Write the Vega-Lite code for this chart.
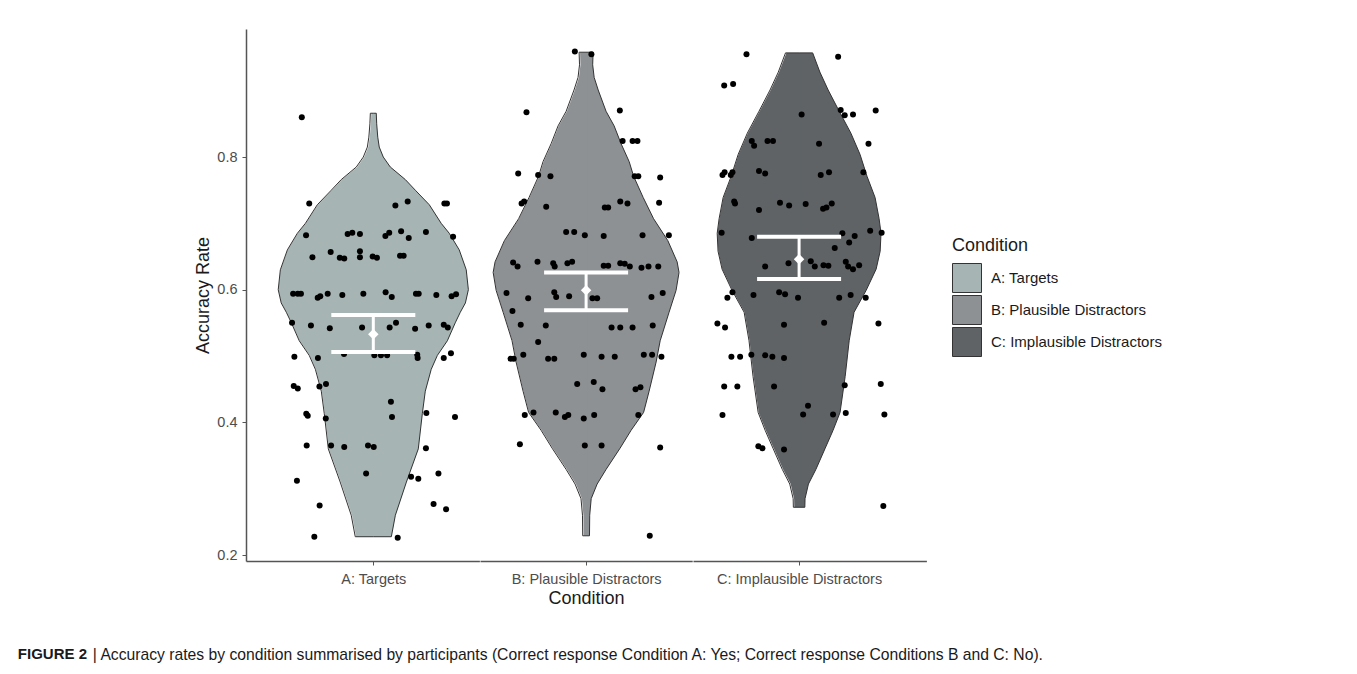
{
 "$schema": "https://vega.github.io/schema/vega-lite/v6.json",
 "padding": {"left": 17, "top": 29, "right": 0, "bottom": 0},
 "background": "white",
 "title": {"text": "FIGURE 2", "orient": "bottom", "anchor": "start", "frame": "bounds", "dx": -75, "offset": -15.7, "font": "Liberation Sans", "fontSize": 15, "fontWeight": "bold", "color": "#1a1a1a"},
 "datasets": {
  "vio": [
   {"c":"A: Targets","acc":0.2276,"d":0.085},{"c":"A: Targets","acc":0.26,"d":0.104},{"c":"A: Targets","acc":0.31,"d":0.156},{"c":"A: Targets","acc":0.36,"d":0.212},{"c":"A: Targets","acc":0.413,"d":0.231},{"c":"A: Targets","acc":0.447,"d":0.245},{"c":"A: Targets","acc":0.48,"d":0.273},{"c":"A: Targets","acc":0.501,"d":0.302},{"c":"A: Targets","acc":0.523,"d":0.349},{"c":"A: Targets","acc":0.55,"d":0.386},{"c":"A: Targets","acc":0.566,"d":0.41},{"c":"A: Targets","acc":0.58,"d":0.434},{"c":"A: Targets","acc":0.6,"d":0.448},{"c":"A: Targets","acc":0.63,"d":0.438},{"c":"A: Targets","acc":0.66,"d":0.405},{"c":"A: Targets","acc":0.685,"d":0.358},{"c":"A: Targets","acc":0.7,"d":0.32},{"c":"A: Targets","acc":0.728,"d":0.264},{"c":"A: Targets","acc":0.75,"d":0.198},{"c":"A: Targets","acc":0.766,"d":0.151},{"c":"A: Targets","acc":0.785,"d":0.08},{"c":"A: Targets","acc":0.8,"d":0.047},{"c":"A: Targets","acc":0.815,"d":0.028},{"c":"A: Targets","acc":0.83,"d":0.021},{"c":"A: Targets","acc":0.85,"d":0.016},{"c":"A: Targets","acc":0.866,"d":0.014},
   {"c":"B: Plausible Distractors","acc":0.229,"d":0.016},{"c":"B: Plausible Distractors","acc":0.26,"d":0.017},{"c":"B: Plausible Distractors","acc":0.285,"d":0.024},{"c":"B: Plausible Distractors","acc":0.307,"d":0.052},{"c":"B: Plausible Distractors","acc":0.329,"d":0.094},{"c":"B: Plausible Distractors","acc":0.361,"d":0.16},{"c":"B: Plausible Distractors","acc":0.388,"d":0.212},{"c":"B: Plausible Distractors","acc":0.415,"d":0.271},{"c":"B: Plausible Distractors","acc":0.447,"d":0.297},{"c":"B: Plausible Distractors","acc":0.491,"d":0.33},{"c":"B: Plausible Distractors","acc":0.523,"d":0.349},{"c":"B: Plausible Distractors","acc":0.566,"d":0.391},{"c":"B: Plausible Distractors","acc":0.599,"d":0.424},{"c":"B: Plausible Distractors","acc":0.626,"d":0.438},{"c":"B: Plausible Distractors","acc":0.642,"d":0.429},{"c":"B: Plausible Distractors","acc":0.674,"d":0.385},{"c":"B: Plausible Distractors","acc":0.707,"d":0.318},{"c":"B: Plausible Distractors","acc":0.739,"d":0.269},{"c":"B: Plausible Distractors","acc":0.771,"d":0.224},{"c":"B: Plausible Distractors","acc":0.793,"d":0.203},{"c":"B: Plausible Distractors","acc":0.82,"d":0.165},{"c":"B: Plausible Distractors","acc":0.847,"d":0.132},{"c":"B: Plausible Distractors","acc":0.869,"d":0.094},{"c":"B: Plausible Distractors","acc":0.901,"d":0.057},{"c":"B: Plausible Distractors","acc":0.92,"d":0.038},{"c":"B: Plausible Distractors","acc":0.939,"d":0.031},{"c":"B: Plausible Distractors","acc":0.958,"d":0.033},
   {"c":"C: Implausible Distractors","acc":0.272,"d":0.027},{"c":"C: Implausible Distractors","acc":0.285,"d":0.028},{"c":"C: Implausible Distractors","acc":0.307,"d":0.044},{"c":"C: Implausible Distractors","acc":0.329,"d":0.079},{"c":"C: Implausible Distractors","acc":0.361,"d":0.123},{"c":"C: Implausible Distractors","acc":0.388,"d":0.16},{"c":"C: Implausible Distractors","acc":0.415,"d":0.193},{"c":"C: Implausible Distractors","acc":0.469,"d":0.217},{"c":"C: Implausible Distractors","acc":0.523,"d":0.236},{"c":"C: Implausible Distractors","acc":0.566,"d":0.259},{"c":"C: Implausible Distractors","acc":0.599,"d":0.316},{"c":"C: Implausible Distractors","acc":0.631,"d":0.363},{"c":"C: Implausible Distractors","acc":0.658,"d":0.382},{"c":"C: Implausible Distractors","acc":0.685,"d":0.386},{"c":"C: Implausible Distractors","acc":0.707,"d":0.377},{"c":"C: Implausible Distractors","acc":0.739,"d":0.358},{"c":"C: Implausible Distractors","acc":0.771,"d":0.32},{"c":"C: Implausible Distractors","acc":0.804,"d":0.287},{"c":"C: Implausible Distractors","acc":0.836,"d":0.244},{"c":"C: Implausible Distractors","acc":0.869,"d":0.189},{"c":"C: Implausible Distractors","acc":0.901,"d":0.137},{"c":"C: Implausible Distractors","acc":0.928,"d":0.098},{"c":"C: Implausible Distractors","acc":0.957,"d":0.064}
  ],
  "sum": [
   {"c":"A: Targets","m":0.533,"lo":0.506,"hi":0.562},
   {"c":"B: Plausible Distractors","m":0.599,"lo":0.569,"hi":0.626},
   {"c":"C: Implausible Distractors","m":0.646,"lo":0.616,"hi":0.68}
  ],
  "pts": [
   {"c":"A: Targets","acc":0.86,"j":-0.337},{"c":"A: Targets","acc":0.73,"j":-0.302},{"c":"A: Targets","acc":0.682,"j":-0.317},{"c":"A: Targets","acc":0.649,"j":-0.287},{"c":"A: Targets","acc":0.657,"j":-0.201},{"c":"A: Targets","acc":0.648,"j":-0.158},{"c":"A: Targets","acc":0.647,"j":-0.137},{"c":"A: Targets","acc":0.658,"j":-0.063},{"c":"A: Targets","acc":0.649,"j":-0.063},{"c":"A: Targets","acc":0.65,"j":-0.003},{"c":"A: Targets","acc":0.648,"j":0.017},{"c":"A: Targets","acc":0.651,"j":0.126},{"c":"A: Targets","acc":0.651,"j":0.143},{"c":"A: Targets","acc":0.684,"j":-0.121},{"c":"A: Targets","acc":0.686,"j":-0.099},{"c":"A: Targets","acc":0.684,"j":-0.063},{"c":"A: Targets","acc":0.681,"j":0.057},{"c":"A: Targets","acc":0.686,"j":0.075},{"c":"A: Targets","acc":0.688,"j":0.131},{"c":"A: Targets","acc":0.678,"j":0.167},{"c":"A: Targets","acc":0.687,"j":0.248},{"c":"A: Targets","acc":0.727,"j":0.104},{"c":"A: Targets","acc":0.733,"j":0.162},
   {"c":"A: Targets","acc":0.594,"j":-0.378},{"c":"A: Targets","acc":0.594,"j":-0.356},{"c":"A: Targets","acc":0.594,"j":-0.341},{"c":"A: Targets","acc":0.588,"j":-0.262},{"c":"A: Targets","acc":0.59,"j":-0.25},{"c":"A: Targets","acc":0.594,"j":-0.215},{"c":"A: Targets","acc":0.592,"j":-0.146},{"c":"A: Targets","acc":0.594,"j":-0.047},{"c":"A: Targets","acc":0.596,"j":0.058},{"c":"A: Targets","acc":0.589,"j":0.087},{"c":"A: Targets","acc":0.594,"j":0.201},{"c":"A: Targets","acc":0.594,"j":0.214},{"c":"A: Targets","acc":0.592,"j":0.297},
   {"c":"A: Targets","acc":0.55,"j":-0.383},{"c":"A: Targets","acc":0.546,"j":-0.294},{"c":"A: Targets","acc":0.542,"j":-0.205},{"c":"A: Targets","acc":0.543,"j":-0.053},{"c":"A: Targets","acc":0.543,"j":0.077},{"c":"A: Targets","acc":0.55,"j":0.107},{"c":"A: Targets","acc":0.541,"j":0.197},{"c":"A: Targets","acc":0.546,"j":0.261},
   {"c":"A: Targets","acc":0.499,"j":-0.372},{"c":"A: Targets","acc":0.497,"j":-0.261},{"c":"A: Targets","acc":0.503,"j":-0.138},{"c":"A: Targets","acc":0.501,"j":0.005},{"c":"A: Targets","acc":0.501,"j":0.036},{"c":"A: Targets","acc":0.501,"j":0.065},{"c":"A: Targets","acc":0.502,"j":0.207},{"c":"A: Targets","acc":0.497,"j":0.209},
   {"c":"A: Targets","acc":0.455,"j":-0.375},{"c":"A: Targets","acc":0.451,"j":-0.356},{"c":"A: Targets","acc":0.454,"j":-0.254},{"c":"A: Targets","acc":0.458,"j":-0.223},{"c":"A: Targets","acc":0.431,"j":0.083},
   {"c":"A: Targets","acc":0.413,"j":-0.316},{"c":"A: Targets","acc":0.41,"j":-0.309},{"c":"A: Targets","acc":0.406,"j":-0.224},{"c":"A: Targets","acc":0.408,"j":0.088},{"c":"A: Targets","acc":0.414,"j":0.25},
   {"c":"A: Targets","acc":0.365,"j":-0.314},{"c":"A: Targets","acc":0.365,"j":-0.199},{"c":"A: Targets","acc":0.363,"j":-0.137},{"c":"A: Targets","acc":0.365,"j":-0.025},{"c":"A: Targets","acc":0.363,"j":0.002},{"c":"A: Targets","acc":0.361,"j":0.248},
   {"c":"A: Targets","acc":0.312,"j":-0.36},{"c":"A: Targets","acc":0.323,"j":-0.034},{"c":"A: Targets","acc":0.318,"j":0.178},{"c":"A: Targets","acc":0.315,"j":0.212},{"c":"A: Targets","acc":0.323,"j":0.307},
   {"c":"A: Targets","acc":0.2745,"j":-0.253},{"c":"A: Targets","acc":0.277,"j":0.284},{"c":"A: Targets","acc":0.269,"j":0.343},{"c":"A: Targets","acc":0.2276,"j":-0.278},{"c":"A: Targets","acc":0.226,"j":0.115},
   {"c":"A: Targets","acc":0.73,"j":0.335},{"c":"A: Targets","acc":0.73,"j":0.347},{"c":"A: Targets","acc":0.68,"j":0.376},{"c":"A: Targets","acc":0.59,"j":0.369},{"c":"A: Targets","acc":0.593,"j":0.39},{"c":"A: Targets","acc":0.547,"j":0.332},{"c":"A: Targets","acc":0.543,"j":0.351},{"c":"A: Targets","acc":0.497,"j":0.332},{"c":"A: Targets","acc":0.504,"j":0.366},{"c":"A: Targets","acc":0.408,"j":0.385},
   {"c":"B: Plausible Distractors","acc":0.959,"j":-0.053},{"c":"B: Plausible Distractors","acc":0.955,"j":0.025},{"c":"B: Plausible Distractors","acc":0.8675,"j":-0.281},{"c":"B: Plausible Distractors","acc":0.87,"j":0.159},{"c":"B: Plausible Distractors","acc":0.824,"j":0.172},{"c":"B: Plausible Distractors","acc":0.824,"j":0.219},{"c":"B: Plausible Distractors","acc":0.824,"j":0.242},{"c":"B: Plausible Distractors","acc":0.775,"j":-0.32},{"c":"B: Plausible Distractors","acc":0.773,"j":-0.226},{"c":"B: Plausible Distractors","acc":0.771,"j":-0.168},{"c":"B: Plausible Distractors","acc":0.771,"j":0.229},{"c":"B: Plausible Distractors","acc":0.771,"j":0.246},{"c":"B: Plausible Distractors","acc":0.769,"j":0.349},
   {"c":"B: Plausible Distractors","acc":0.73,"j":-0.304},{"c":"B: Plausible Distractors","acc":0.733,"j":-0.292},{"c":"B: Plausible Distractors","acc":0.725,"j":-0.188},{"c":"B: Plausible Distractors","acc":0.724,"j":0.088},{"c":"B: Plausible Distractors","acc":0.724,"j":0.104},{"c":"B: Plausible Distractors","acc":0.733,"j":0.161},{"c":"B: Plausible Distractors","acc":0.73,"j":0.195},{"c":"B: Plausible Distractors","acc":0.731,"j":0.344},
   {"c":"B: Plausible Distractors","acc":0.682,"j":0.39},{"c":"B: Plausible Distractors","acc":0.687,"j":-0.094},{"c":"B: Plausible Distractors","acc":0.687,"j":-0.056},{"c":"B: Plausible Distractors","acc":0.682,"j":-0.006},{"c":"B: Plausible Distractors","acc":0.681,"j":0.083},{"c":"B: Plausible Distractors","acc":0.682,"j":0.266},
   {"c":"B: Plausible Distractors","acc":0.641,"j":-0.344},{"c":"B: Plausible Distractors","acc":0.635,"j":-0.323},{"c":"B: Plausible Distractors","acc":0.642,"j":-0.229},{"c":"B: Plausible Distractors","acc":0.64,"j":-0.155},{"c":"B: Plausible Distractors","acc":0.635,"j":-0.148},{"c":"B: Plausible Distractors","acc":0.64,"j":-0.088},{"c":"B: Plausible Distractors","acc":0.642,"j":-0.066},{"c":"B: Plausible Distractors","acc":0.636,"j":0.083},{"c":"B: Plausible Distractors","acc":0.636,"j":0.104},{"c":"B: Plausible Distractors","acc":0.64,"j":0.161},{"c":"B: Plausible Distractors","acc":0.639,"j":0.182},{"c":"B: Plausible Distractors","acc":0.635,"j":0.206},{"c":"B: Plausible Distractors","acc":0.633,"j":0.261},{"c":"B: Plausible Distractors","acc":0.635,"j":0.294},{"c":"B: Plausible Distractors","acc":0.635,"j":0.34},
   {"c":"B: Plausible Distractors","acc":0.595,"j":-0.375},{"c":"B: Plausible Distractors","acc":0.587,"j":-0.273},{"c":"B: Plausible Distractors","acc":0.596,"j":-0.15},{"c":"B: Plausible Distractors","acc":0.589,"j":-0.141},{"c":"B: Plausible Distractors","acc":0.59,"j":-0.08},{"c":"B: Plausible Distractors","acc":0.587,"j":0.03},{"c":"B: Plausible Distractors","acc":0.587,"j":0.052},{"c":"B: Plausible Distractors","acc":0.589,"j":0.308},{"c":"B: Plausible Distractors","acc":0.595,"j":0.361},
   {"c":"B: Plausible Distractors","acc":0.568,"j":-0.347},{"c":"B: Plausible Distractors","acc":0.547,"j":-0.308},{"c":"B: Plausible Distractors","acc":0.546,"j":-0.19},{"c":"B: Plausible Distractors","acc":0.543,"j":0.12},{"c":"B: Plausible Distractors","acc":0.543,"j":0.161},{"c":"B: Plausible Distractors","acc":0.543,"j":0.219},{"c":"B: Plausible Distractors","acc":0.546,"j":0.314},{"c":"B: Plausible Distractors","acc":0.521,"j":-0.226},
   {"c":"B: Plausible Distractors","acc":0.496,"j":-0.356},{"c":"B: Plausible Distractors","acc":0.496,"j":-0.341},{"c":"B: Plausible Distractors","acc":0.502,"j":-0.296},{"c":"B: Plausible Distractors","acc":0.496,"j":-0.179},{"c":"B: Plausible Distractors","acc":0.496,"j":-0.15},{"c":"B: Plausible Distractors","acc":0.502,"j":-0.011},{"c":"B: Plausible Distractors","acc":0.499,"j":0.073},{"c":"B: Plausible Distractors","acc":0.499,"j":0.135},{"c":"B: Plausible Distractors","acc":0.502,"j":0.272},{"c":"B: Plausible Distractors","acc":0.502,"j":0.311},{"c":"B: Plausible Distractors","acc":0.499,"j":0.355},
   {"c":"B: Plausible Distractors","acc":0.458,"j":-0.042},{"c":"B: Plausible Distractors","acc":0.461,"j":0.036},{"c":"B: Plausible Distractors","acc":0.45,"j":0.077},{"c":"B: Plausible Distractors","acc":0.45,"j":0.233},{"c":"B: Plausible Distractors","acc":0.453,"j":0.256},
   {"c":"B: Plausible Distractors","acc":0.411,"j":-0.289},{"c":"B: Plausible Distractors","acc":0.415,"j":-0.248},{"c":"B: Plausible Distractors","acc":0.415,"j":-0.143},{"c":"B: Plausible Distractors","acc":0.408,"j":-0.1},{"c":"B: Plausible Distractors","acc":0.411,"j":-0.084},{"c":"B: Plausible Distractors","acc":0.406,"j":-0.011},{"c":"B: Plausible Distractors","acc":0.411,"j":0.038},{"c":"B: Plausible Distractors","acc":0.411,"j":0.246},
   {"c":"B: Plausible Distractors","acc":0.367,"j":-0.312},{"c":"B: Plausible Distractors","acc":0.365,"j":-0.006},{"c":"B: Plausible Distractors","acc":0.365,"j":0.073},{"c":"B: Plausible Distractors","acc":0.362,"j":0.349},{"c":"B: Plausible Distractors","acc":0.229,"j":0.3},
   {"c":"C: Implausible Distractors","acc":0.955,"j":-0.248},{"c":"C: Implausible Distractors","acc":0.951,"j":0.184},{"c":"C: Implausible Distractors","acc":0.908,"j":-0.353},{"c":"C: Implausible Distractors","acc":0.91,"j":-0.311},{"c":"C: Implausible Distractors","acc":0.864,"j":0.012},{"c":"C: Implausible Distractors","acc":0.871,"j":0.196},{"c":"C: Implausible Distractors","acc":0.863,"j":0.215},{"c":"C: Implausible Distractors","acc":0.864,"j":0.254},{"c":"C: Implausible Distractors","acc":0.87,"j":0.361},
   {"c":"C: Implausible Distractors","acc":0.824,"j":-0.223},{"c":"C: Implausible Distractors","acc":0.817,"j":-0.212},{"c":"C: Implausible Distractors","acc":0.824,"j":-0.149},{"c":"C: Implausible Distractors","acc":0.824,"j":-0.123},{"c":"C: Implausible Distractors","acc":0.82,"j":0.094},{"c":"C: Implausible Distractors","acc":0.82,"j":0.327},
   {"c":"C: Implausible Distractors","acc":0.773,"j":-0.361},{"c":"C: Implausible Distractors","acc":0.777,"j":-0.351},{"c":"C: Implausible Distractors","acc":0.773,"j":-0.322},{"c":"C: Implausible Distractors","acc":0.777,"j":-0.314},{"c":"C: Implausible Distractors","acc":0.779,"j":-0.189},{"c":"C: Implausible Distractors","acc":0.775,"j":-0.16},{"c":"C: Implausible Distractors","acc":0.773,"j":0.102},{"c":"C: Implausible Distractors","acc":0.777,"j":0.141},{"c":"C: Implausible Distractors","acc":0.777,"j":0.303},
   {"c":"C: Implausible Distractors","acc":0.733,"j":-0.306},{"c":"C: Implausible Distractors","acc":0.73,"j":-0.302},{"c":"C: Implausible Distractors","acc":0.72,"j":-0.189},{"c":"C: Implausible Distractors","acc":0.731,"j":-0.09},{"c":"C: Implausible Distractors","acc":0.727,"j":-0.047},{"c":"C: Implausible Distractors","acc":0.729,"j":0.031},{"c":"C: Implausible Distractors","acc":0.722,"j":0.113},{"c":"C: Implausible Distractors","acc":0.724,"j":0.129},{"c":"C: Implausible Distractors","acc":0.73,"j":0.154},
   {"c":"C: Implausible Distractors","acc":0.686,"j":-0.365},{"c":"C: Implausible Distractors","acc":0.678,"j":-0.223},{"c":"C: Implausible Distractors","acc":0.685,"j":0.204},{"c":"C: Implausible Distractors","acc":0.671,"j":0.236},{"c":"C: Implausible Distractors","acc":0.681,"j":0.262},{"c":"C: Implausible Distractors","acc":0.663,"j":0.168},{"c":"C: Implausible Distractors","acc":0.689,"j":0.335},{"c":"C: Implausible Distractors","acc":0.686,"j":0.389},
   {"c":"C: Implausible Distractors","acc":0.635,"j":-0.16},{"c":"C: Implausible Distractors","acc":0.64,"j":-0.05},{"c":"C: Implausible Distractors","acc":0.643,"j":0.055},{"c":"C: Implausible Distractors","acc":0.635,"j":0.074},{"c":"C: Implausible Distractors","acc":0.637,"j":0.115},{"c":"C: Implausible Distractors","acc":0.636,"j":0.138},{"c":"C: Implausible Distractors","acc":0.642,"j":0.22},{"c":"C: Implausible Distractors","acc":0.635,"j":0.231},{"c":"C: Implausible Distractors","acc":0.631,"j":0.254},{"c":"C: Implausible Distractors","acc":0.637,"j":0.283},
   {"c":"C: Implausible Distractors","acc":0.596,"j":-0.314},{"c":"C: Implausible Distractors","acc":0.588,"j":-0.338},{"c":"C: Implausible Distractors","acc":0.592,"j":-0.215},{"c":"C: Implausible Distractors","acc":0.596,"j":-0.094},{"c":"C: Implausible Distractors","acc":0.593,"j":-0.066},{"c":"C: Implausible Distractors","acc":0.588,"j":-0.005},{"c":"C: Implausible Distractors","acc":0.588,"j":0.189},{"c":"C: Implausible Distractors","acc":0.592,"j":0.243},{"c":"C: Implausible Distractors","acc":0.588,"j":0.314},
   {"c":"C: Implausible Distractors","acc":0.549,"j":-0.385},{"c":"C: Implausible Distractors","acc":0.543,"j":-0.349},{"c":"C: Implausible Distractors","acc":0.547,"j":-0.071},{"c":"C: Implausible Distractors","acc":0.55,"j":0.118},{"c":"C: Implausible Distractors","acc":0.549,"j":0.374},
   {"c":"C: Implausible Distractors","acc":0.499,"j":-0.319},{"c":"C: Implausible Distractors","acc":0.499,"j":-0.278},{"c":"C: Implausible Distractors","acc":0.502,"j":-0.225},{"c":"C: Implausible Distractors","acc":0.501,"j":-0.16},{"c":"C: Implausible Distractors","acc":0.499,"j":-0.126},{"c":"C: Implausible Distractors","acc":0.497,"j":-0.071},
   {"c":"C: Implausible Distractors","acc":0.454,"j":-0.353},{"c":"C: Implausible Distractors","acc":0.454,"j":-0.291},{"c":"C: Implausible Distractors","acc":0.454,"j":-0.118},{"c":"C: Implausible Distractors","acc":0.456,"j":0.215},{"c":"C: Implausible Distractors","acc":0.458,"j":0.385},
   {"c":"C: Implausible Distractors","acc":0.411,"j":-0.361},{"c":"C: Implausible Distractors","acc":0.412,"j":0.019},{"c":"C: Implausible Distractors","acc":0.425,"j":0.042},{"c":"C: Implausible Distractors","acc":0.412,"j":0.16},{"c":"C: Implausible Distractors","acc":0.414,"j":0.22},{"c":"C: Implausible Distractors","acc":0.412,"j":0.402},
   {"c":"C: Implausible Distractors","acc":0.364,"j":-0.192},{"c":"C: Implausible Distractors","acc":0.361,"j":-0.173},{"c":"C: Implausible Distractors","acc":0.359,"j":-0.071},{"c":"C: Implausible Distractors","acc":0.274,"j":0.397}
  ]
 },
 "vconcat": [
 {
 "title": {"text": "| Accuracy rates by condition summarised by participants (Correct response Condition A: Yes; Correct response Conditions B and C: No).", "orient": "bottom", "anchor": "start", "frame": "bounds", "dx": -102, "offset": 40, "font": "Liberation Sans", "fontSize": 15.7, "fontWeight": "normal", "color": "#1a1a1a"},
 "spacing": 0,
 "hconcat": [
  {
   "width": 233.4, "height": 532,
   "layer": [
    {"data": {"name": "vio"}, "transform": [{"filter": "datum.c === 'A: Targets'"}],
     "mark": {"type": "area", "orient": "horizontal", "opacity": 1},
     "encoding": {"x": {"field": "d", "type": "quantitative", "stack": null, "scale": {"domain": [0, 0.5], "range": [127.3, 233.4]}, "axis": null},
      "y": {"field": "acc", "type": "quantitative", "scale": {"domain": [0.191, 0.993], "nice": false, "zero": false},
       "axis": {"values": [0.2, 0.4, 0.6, 0.8], "format": ".1f", "title": "Accuracy Rate", "titleFontSize": 18, "titleFontWeight": "normal", "titleColor": "#1a1a1a", "titlePadding": 4, "labelFontSize": 14.5, "labelColor": "#4d4d4d", "labelPadding": 5, "tickSize": 4, "tickColor": "#555555", "domainColor": "#555555", "domainWidth": 1.5, "grid": false}},
      "fill": {"field": "c", "type": "nominal", "scale": {"domain": ["A: Targets", "B: Plausible Distractors", "C: Implausible Distractors"], "range": ["#a7b4b4", "#8d9193", "#5f6366"]},
       "legend": {"orient": "none", "legendX": 706, "legendY": 208, "title": "Condition", "symbolType": "square", "symbolSize": 841, "symbolStrokeColor": "#333333", "symbolStrokeWidth": 1, "symbolOpacity": 1, "labelFontSize": 15, "labelColor": "#1a1a1a", "labelLimit": 400, "labelOffset": 9, "titleFontSize": 18, "titleFontWeight": "normal", "titleColor": "#1a1a1a", "titlePadding": 8, "rowPadding": -2, "padding": 0}}}},
    {"data": {"name": "vio"}, "transform": [{"filter": "datum.c === 'A: Targets'"}],
     "mark": {"type": "area", "orient": "horizontal", "opacity": 1},
     "encoding": {"x": {"field": "d", "type": "quantitative", "stack": null, "scale": {"domain": [0, 0.5], "range": [128.3, 21.2]}, "axis": null},
      "y": {"field": "acc", "type": "quantitative"},
      "fill": {"field": "c", "type": "nominal"}}},
    {"data": {"name": "vio"}, "transform": [{"filter": "datum.c === 'A: Targets'"}],
     "mark": {"type": "line", "stroke": "#333333", "strokeWidth": 1},
     "encoding": {"x": {"field": "d", "type": "quantitative", "scale": {"domain": [0, 0.5], "range": [127.3, 233.4]}, "axis": null},
      "y": {"field": "acc", "type": "quantitative"}, "order": {"field": "acc", "type": "quantitative"}}},
    {"data": {"name": "vio"}, "transform": [{"filter": "datum.c === 'A: Targets'"}],
     "mark": {"type": "line", "stroke": "#333333", "strokeWidth": 1},
     "encoding": {"x": {"field": "d", "type": "quantitative", "scale": {"domain": [0, 0.5], "range": [127.3, 21.2]}, "axis": null},
      "y": {"field": "acc", "type": "quantitative"}, "order": {"field": "acc", "type": "quantitative"}}},
    {"data": {"name": "vio"}, "transform": [{"filter": "datum.c === 'A: Targets'"}, {"joinaggregate": [{"op": "min", "field": "acc", "as": "amin"}, {"op": "max", "field": "acc", "as": "amax"}]}, {"filter": "datum.acc === datum.amin || datum.acc === datum.amax"}],
     "mark": {"type": "rule", "stroke": "#333333", "strokeWidth": 1},
     "encoding": {"x": {"field": "d", "type": "quantitative", "scale": {"domain": [0, 0.5], "range": [127.3, 233.4]}, "axis": null}, "x2": {"datum": 0},
      "y": {"field": "acc", "type": "quantitative"}}},
    {"data": {"name": "vio"}, "transform": [{"filter": "datum.c === 'A: Targets'"}, {"joinaggregate": [{"op": "min", "field": "acc", "as": "amin"}, {"op": "max", "field": "acc", "as": "amax"}]}, {"filter": "datum.acc === datum.amin || datum.acc === datum.amax"}],
     "mark": {"type": "rule", "stroke": "#333333", "strokeWidth": 1},
     "encoding": {"x": {"field": "d", "type": "quantitative", "scale": {"domain": [0, 0.5], "range": [127.3, 21.2]}, "axis": null}, "x2": {"datum": 0},
      "y": {"field": "acc", "type": "quantitative"}}},
    {"data": {"name": "pts"}, "transform": [{"filter": "datum.c === 'A: Targets'"}],
     "mark": {"type": "circle", "color": "#000000", "size": 36, "opacity": 1},
     "encoding": {"x": {"field": "j", "type": "quantitative", "scale": {"domain": [-0.6, 0.5]},
       "axis": {"values": [0], "labelExpr": "'A: Targets'", "title": null, "labelFontSize": 14.5, "labelColor": "#4d4d4d", "labelPadding": 7, "labelLimit": 400, "tickSize": 4, "tickColor": "#555555", "domainColor": "#555555", "domainWidth": 1.5, "grid": false}},
      "y": {"field": "acc", "type": "quantitative"}}},
    {"data": {"name": "sum"}, "transform": [{"filter": "datum.c === 'A: Targets'"}],
     "mark": {"type": "rule", "color": "white", "strokeWidth": 3},
     "encoding": {"x": {"datum": 0, "type": "quantitative", "scale": {"domain": [-0.6, 0.5]}, "axis": null},
      "y": {"field": "lo", "type": "quantitative"}, "y2": {"field": "hi"}}},
    {"data": {"name": "sum"}, "transform": [{"filter": "datum.c === 'A: Targets'"}],
     "mark": {"type": "tick", "orient": "horizontal", "color": "white", "size": 84, "thickness": 4, "opacity": 1},
     "encoding": {"x": {"datum": 0, "type": "quantitative", "scale": {"domain": [-0.6, 0.5]}, "axis": null},
      "y": {"field": "lo", "type": "quantitative"}}},
    {"data": {"name": "sum"}, "transform": [{"filter": "datum.c === 'A: Targets'"}],
     "mark": {"type": "tick", "orient": "horizontal", "color": "white", "size": 84, "thickness": 4, "opacity": 1},
     "encoding": {"x": {"datum": 0, "type": "quantitative", "scale": {"domain": [-0.6, 0.5]}, "axis": null},
      "y": {"field": "hi", "type": "quantitative"}}},
    {"data": {"name": "sum"}, "transform": [{"filter": "datum.c === 'A: Targets'"}],
     "mark": {"type": "point", "shape": "diamond", "filled": true, "color": "white", "size": 110, "opacity": 1},
     "encoding": {"x": {"datum": 0, "type": "quantitative", "scale": {"domain": [-0.6, 0.5]}, "axis": null},
      "y": {"field": "m", "type": "quantitative"}}}
   ],
   "resolve": {"scale": {"x": "independent"}}
  },
  {
   "width": 212.2, "height": 532,
   "layer": [
    {"data": {"name": "vio"}, "transform": [{"filter": "datum.c === 'B: Plausible Distractors'"}],
     "mark": {"type": "area", "orient": "horizontal", "opacity": 1},
     "encoding": {"x": {"field": "d", "type": "quantitative", "stack": null, "scale": {"domain": [0, 0.5], "range": [106.1, 212.2]}, "axis": null},
      "y": {"field": "acc", "type": "quantitative", "scale": {"domain": [0.191, 0.993], "nice": false, "zero": false}, "axis": null},
      "fill": {"field": "c", "type": "nominal"}}},
    {"data": {"name": "vio"}, "transform": [{"filter": "datum.c === 'B: Plausible Distractors'"}],
     "mark": {"type": "area", "orient": "horizontal", "opacity": 1},
     "encoding": {"x": {"field": "d", "type": "quantitative", "stack": null, "scale": {"domain": [0, 0.5], "range": [107.1, 0]}, "axis": null},
      "y": {"field": "acc", "type": "quantitative", "axis": null},
      "fill": {"field": "c", "type": "nominal"}}},
    {"data": {"name": "vio"}, "transform": [{"filter": "datum.c === 'B: Plausible Distractors'"}],
     "mark": {"type": "line", "stroke": "#333333", "strokeWidth": 1},
     "encoding": {"x": {"field": "d", "type": "quantitative", "scale": {"domain": [0, 0.5], "range": [106.1, 212.2]}, "axis": null},
      "y": {"field": "acc", "type": "quantitative", "axis": null}, "order": {"field": "acc", "type": "quantitative"}}},
    {"data": {"name": "vio"}, "transform": [{"filter": "datum.c === 'B: Plausible Distractors'"}],
     "mark": {"type": "line", "stroke": "#333333", "strokeWidth": 1},
     "encoding": {"x": {"field": "d", "type": "quantitative", "scale": {"domain": [0, 0.5], "range": [106.1, 0]}, "axis": null},
      "y": {"field": "acc", "type": "quantitative", "axis": null}, "order": {"field": "acc", "type": "quantitative"}}},
    {"data": {"name": "vio"}, "transform": [{"filter": "datum.c === 'B: Plausible Distractors'"}, {"joinaggregate": [{"op": "min", "field": "acc", "as": "amin"}, {"op": "max", "field": "acc", "as": "amax"}]}, {"filter": "datum.acc === datum.amin || datum.acc === datum.amax"}],
     "mark": {"type": "rule", "stroke": "#333333", "strokeWidth": 1},
     "encoding": {"x": {"field": "d", "type": "quantitative", "scale": {"domain": [0, 0.5], "range": [106.1, 212.2]}, "axis": null}, "x2": {"datum": 0},
      "y": {"field": "acc", "type": "quantitative", "axis": null}}},
    {"data": {"name": "vio"}, "transform": [{"filter": "datum.c === 'B: Plausible Distractors'"}, {"joinaggregate": [{"op": "min", "field": "acc", "as": "amin"}, {"op": "max", "field": "acc", "as": "amax"}]}, {"filter": "datum.acc === datum.amin || datum.acc === datum.amax"}],
     "mark": {"type": "rule", "stroke": "#333333", "strokeWidth": 1},
     "encoding": {"x": {"field": "d", "type": "quantitative", "scale": {"domain": [0, 0.5], "range": [106.1, 0]}, "axis": null}, "x2": {"datum": 0},
      "y": {"field": "acc", "type": "quantitative", "axis": null}}},
    {"data": {"name": "pts"}, "transform": [{"filter": "datum.c === 'B: Plausible Distractors'"}],
     "mark": {"type": "circle", "color": "#000000", "size": 36, "opacity": 1},
     "encoding": {"x": {"field": "j", "type": "quantitative", "scale": {"domain": [-0.5, 0.5]},
       "axis": {"values": [0], "labelExpr": "'B: Plausible Distractors'", "title": "Condition", "titleFontSize": 18, "titleFontWeight": "normal", "titleColor": "#1a1a1a", "titlePadding": 4, "labelFontSize": 14.5, "labelColor": "#4d4d4d", "labelPadding": 7, "labelLimit": 400, "tickSize": 4, "tickColor": "#555555", "domainColor": "#555555", "domainWidth": 1.5, "grid": false}},
      "y": {"field": "acc", "type": "quantitative", "axis": null}}},
    {"data": {"name": "sum"}, "transform": [{"filter": "datum.c === 'B: Plausible Distractors'"}],
     "mark": {"type": "rule", "color": "white", "strokeWidth": 3},
     "encoding": {"x": {"datum": 0, "type": "quantitative", "scale": {"domain": [-0.5, 0.5]}, "axis": null},
      "y": {"field": "lo", "type": "quantitative", "axis": null}, "y2": {"field": "hi"}}},
    {"data": {"name": "sum"}, "transform": [{"filter": "datum.c === 'B: Plausible Distractors'"}],
     "mark": {"type": "tick", "orient": "horizontal", "color": "white", "size": 84, "thickness": 4, "opacity": 1},
     "encoding": {"x": {"datum": 0, "type": "quantitative", "scale": {"domain": [-0.5, 0.5]}, "axis": null},
      "y": {"field": "lo", "type": "quantitative", "axis": null}}},
    {"data": {"name": "sum"}, "transform": [{"filter": "datum.c === 'B: Plausible Distractors'"}],
     "mark": {"type": "tick", "orient": "horizontal", "color": "white", "size": 84, "thickness": 4, "opacity": 1},
     "encoding": {"x": {"datum": 0, "type": "quantitative", "scale": {"domain": [-0.5, 0.5]}, "axis": null},
      "y": {"field": "hi", "type": "quantitative", "axis": null}}},
    {"data": {"name": "sum"}, "transform": [{"filter": "datum.c === 'B: Plausible Distractors'"}],
     "mark": {"type": "point", "shape": "diamond", "filled": true, "color": "white", "size": 110, "opacity": 1},
     "encoding": {"x": {"datum": 0, "type": "quantitative", "scale": {"domain": [-0.5, 0.5]}, "axis": null},
      "y": {"field": "m", "type": "quantitative", "axis": null}}}
   ],
   "resolve": {"scale": {"x": "independent"}}
  },
  {
   "width": 233.4, "height": 532,
   "layer": [
    {"data": {"name": "vio"}, "transform": [{"filter": "datum.c === 'C: Implausible Distractors'"}],
     "mark": {"type": "area", "orient": "horizontal", "opacity": 1},
     "encoding": {"x": {"field": "d", "type": "quantitative", "stack": null, "scale": {"domain": [0, 0.5], "range": [106.1, 212.2]}, "axis": null},
      "y": {"field": "acc", "type": "quantitative", "scale": {"domain": [0.191, 0.993], "nice": false, "zero": false}, "axis": null},
      "fill": {"field": "c", "type": "nominal"}}},
    {"data": {"name": "vio"}, "transform": [{"filter": "datum.c === 'C: Implausible Distractors'"}],
     "mark": {"type": "area", "orient": "horizontal", "opacity": 1},
     "encoding": {"x": {"field": "d", "type": "quantitative", "stack": null, "scale": {"domain": [0, 0.5], "range": [107.1, 0]}, "axis": null},
      "y": {"field": "acc", "type": "quantitative", "axis": null},
      "fill": {"field": "c", "type": "nominal"}}},
    {"data": {"name": "vio"}, "transform": [{"filter": "datum.c === 'C: Implausible Distractors'"}],
     "mark": {"type": "line", "stroke": "#333333", "strokeWidth": 1},
     "encoding": {"x": {"field": "d", "type": "quantitative", "scale": {"domain": [0, 0.5], "range": [106.1, 212.2]}, "axis": null},
      "y": {"field": "acc", "type": "quantitative", "axis": null}, "order": {"field": "acc", "type": "quantitative"}}},
    {"data": {"name": "vio"}, "transform": [{"filter": "datum.c === 'C: Implausible Distractors'"}],
     "mark": {"type": "line", "stroke": "#333333", "strokeWidth": 1},
     "encoding": {"x": {"field": "d", "type": "quantitative", "scale": {"domain": [0, 0.5], "range": [106.1, 0]}, "axis": null},
      "y": {"field": "acc", "type": "quantitative", "axis": null}, "order": {"field": "acc", "type": "quantitative"}}},
    {"data": {"name": "vio"}, "transform": [{"filter": "datum.c === 'C: Implausible Distractors'"}, {"joinaggregate": [{"op": "min", "field": "acc", "as": "amin"}, {"op": "max", "field": "acc", "as": "amax"}]}, {"filter": "datum.acc === datum.amin || datum.acc === datum.amax"}],
     "mark": {"type": "rule", "stroke": "#333333", "strokeWidth": 1},
     "encoding": {"x": {"field": "d", "type": "quantitative", "scale": {"domain": [0, 0.5], "range": [106.1, 212.2]}, "axis": null}, "x2": {"datum": 0},
      "y": {"field": "acc", "type": "quantitative", "axis": null}}},
    {"data": {"name": "vio"}, "transform": [{"filter": "datum.c === 'C: Implausible Distractors'"}, {"joinaggregate": [{"op": "min", "field": "acc", "as": "amin"}, {"op": "max", "field": "acc", "as": "amax"}]}, {"filter": "datum.acc === datum.amin || datum.acc === datum.amax"}],
     "mark": {"type": "rule", "stroke": "#333333", "strokeWidth": 1},
     "encoding": {"x": {"field": "d", "type": "quantitative", "scale": {"domain": [0, 0.5], "range": [106.1, 0]}, "axis": null}, "x2": {"datum": 0},
      "y": {"field": "acc", "type": "quantitative", "axis": null}}},
    {"data": {"name": "pts"}, "transform": [{"filter": "datum.c === 'C: Implausible Distractors'"}],
     "mark": {"type": "circle", "color": "#000000", "size": 36, "opacity": 1},
     "encoding": {"x": {"field": "j", "type": "quantitative", "scale": {"domain": [-0.5, 0.6]},
       "axis": {"values": [0], "labelExpr": "'C: Implausible Distractors'", "title": null, "labelFontSize": 14.5, "labelColor": "#4d4d4d", "labelPadding": 7, "labelLimit": 400, "tickSize": 4, "tickColor": "#555555", "domainColor": "#555555", "domainWidth": 1.5, "grid": false}},
      "y": {"field": "acc", "type": "quantitative", "axis": null}}},
    {"data": {"name": "sum"}, "transform": [{"filter": "datum.c === 'C: Implausible Distractors'"}],
     "mark": {"type": "rule", "color": "white", "strokeWidth": 3},
     "encoding": {"x": {"datum": 0, "type": "quantitative", "scale": {"domain": [-0.5, 0.6]}, "axis": null},
      "y": {"field": "lo", "type": "quantitative", "axis": null}, "y2": {"field": "hi"}}},
    {"data": {"name": "sum"}, "transform": [{"filter": "datum.c === 'C: Implausible Distractors'"}],
     "mark": {"type": "tick", "orient": "horizontal", "color": "white", "size": 84, "thickness": 4, "opacity": 1},
     "encoding": {"x": {"datum": 0, "type": "quantitative", "scale": {"domain": [-0.5, 0.6]}, "axis": null},
      "y": {"field": "lo", "type": "quantitative", "axis": null}}},
    {"data": {"name": "sum"}, "transform": [{"filter": "datum.c === 'C: Implausible Distractors'"}],
     "mark": {"type": "tick", "orient": "horizontal", "color": "white", "size": 84, "thickness": 4, "opacity": 1},
     "encoding": {"x": {"datum": 0, "type": "quantitative", "scale": {"domain": [-0.5, 0.6]}, "axis": null},
      "y": {"field": "hi", "type": "quantitative", "axis": null}}},
    {"data": {"name": "sum"}, "transform": [{"filter": "datum.c === 'C: Implausible Distractors'"}],
     "mark": {"type": "point", "shape": "diamond", "filled": true, "color": "white", "size": 110, "opacity": 1},
     "encoding": {"x": {"datum": 0, "type": "quantitative", "scale": {"domain": [-0.5, 0.6]}, "axis": null},
      "y": {"field": "m", "type": "quantitative", "axis": null}}}
   ],
   "resolve": {"scale": {"x": "independent"}}
  }
 ]
 }
 ],
 "config": {"font": "Liberation Sans", "view": {"stroke": null}, "axis": {"grid": false}}
}
